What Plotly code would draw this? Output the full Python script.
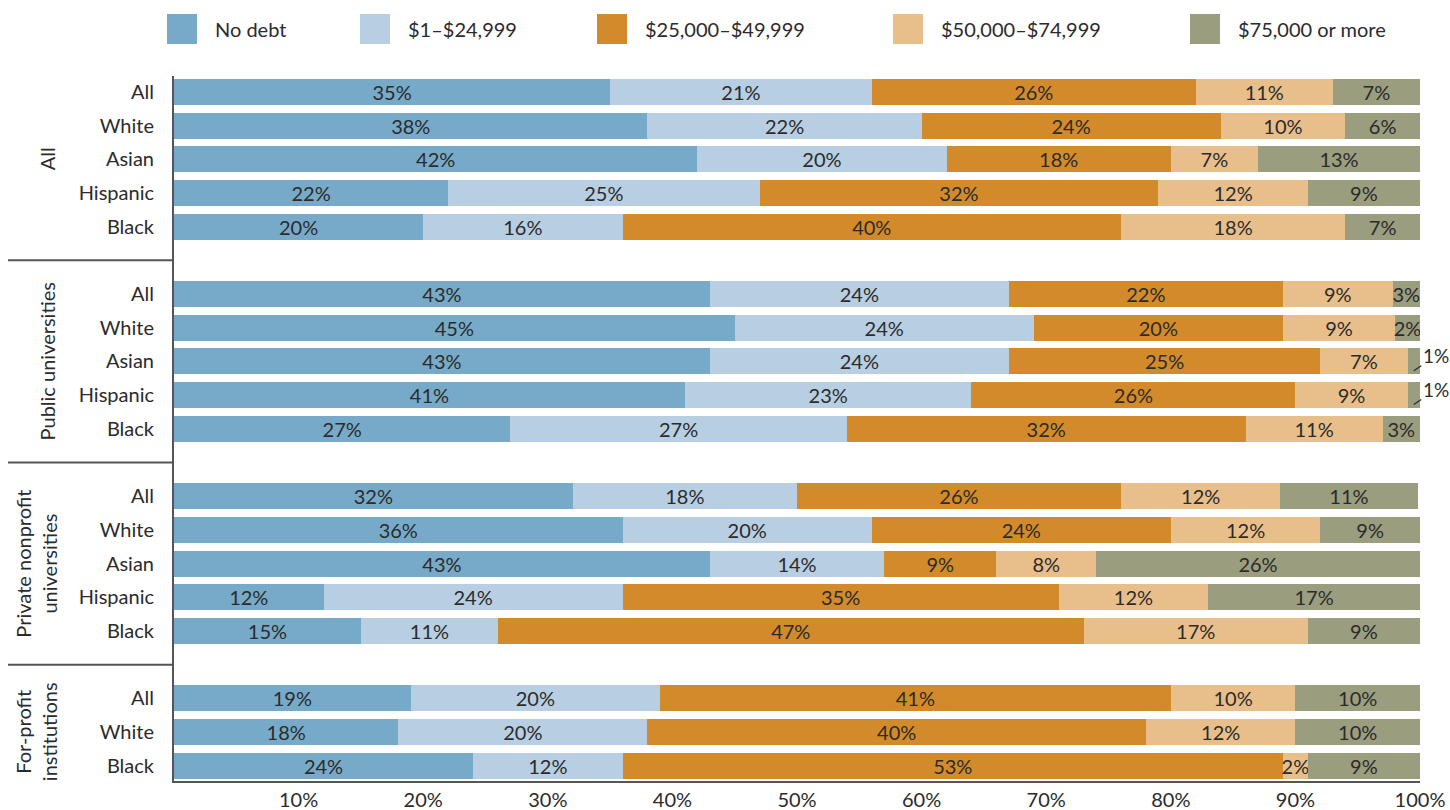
import plotly.graph_objects as go

# ---------------- data ----------------
groups = ["All", "Public universities", "Private nonprofit<br>universities", "For-profit<br>institutions"]
group_rows = [
    ["All", "White", "Asian", "Hispanic", "Black"],
    ["All", "White", "Asian", "Hispanic", "Black"],
    ["All", "White", "Asian", "Hispanic", "Black"],
    ["All", "White", "Black"],
]
series_names = ["No debt", "$1–$24,999", "$25,000–$49,999", "$50,000–$74,999", "$75,000 or more"]
series_colors = ["#77aac8", "#b8cee2", "#d38a2a", "#e8bf8a", "#9a9d7e"]

# segment widths (share of students, %), rows in reading order
no_debt  = [35, 38, 42, 22, 20,  43, 45, 43, 41, 27,  32, 36, 43, 12, 15,  19, 18, 24]
low_debt = [21, 22, 20, 25, 16,  24, 24, 24, 23, 27,  18, 20, 14, 24, 11,  20, 20, 12]
mid_debt = [26, 24, 18, 32, 40,  22, 20, 25, 26, 32,  26, 24,  9, 35, 47,  41, 40, 53]
high_debt = [11, 10, 7, 12, 18,  8.8, 9, 7, 9, 11,  12.8, 12, 8, 12, 18,  10, 12, 2]
top_debt = [7, 6, 13, 9, 6,  2.2, 2, 1, 1, 3,  11, 8, 26, 17, 9,  10, 10, 9]

# printed labels (%)
no_debt_lbl  = [35, 38, 42, 22, 20,  43, 45, 43, 41, 27,  32, 36, 43, 12, 15,  19, 18, 24]
low_debt_lbl = [21, 22, 20, 25, 16,  24, 24, 24, 23, 27,  18, 20, 14, 24, 11,  20, 20, 12]
mid_debt_lbl = [26, 24, 18, 32, 40,  22, 20, 25, 26, 32,  26, 24,  9, 35, 47,  41, 40, 53]
high_debt_lbl = [11, 10, 7, 12, 18,  9, 9, 7, 9, 11,  12, 12, 8, 12, 17,  10, 12, 2]
top_debt_lbl = [7, 6, 13, 9, 7,  3, 2, 1, 1, 3,  11, 9, 26, 17, 9,  10, 10, 9]

x_ticks = [10, 20, 30, 40, 50, 60, 70, 80, 90, 100]

# ---------------- layout helpers ----------------
FONT = "Lato"
TXT = "#2b2b2b"
AXC = "#555555"
L, R, T, B = 174, 30, 76, 29
W, H = 1450, 810
PW, PH = W - L - R, H - T - B


def px_x(px):
    return (px - L) / PW


def px_y(py):
    return (H - B - py) / PH


# y positions: groups separated by one empty slot
positions, labels, group_centers, separators = [], [], [], []
pos = 0
for gi, rows in enumerate(group_rows):
    start = pos
    for r in rows:
        positions.append(pos)
        labels.append(r)
        pos += 1
    group_centers.append((start + pos - 1) / 2)
    if gi < len(group_rows) - 1:
        separators.append(pos)
    pos += 1

widths = [no_debt, low_debt, mid_debt, high_debt, top_debt]
texts = [no_debt_lbl, low_debt_lbl, mid_debt_lbl, high_debt_lbl, top_debt_lbl]

fig = go.Figure()
annotations = []
for si, (name, color, w, t) in enumerate(zip(series_names, series_colors, widths, texts)):
    shown = []
    for ri, (wv, tv) in enumerate(zip(w, t)):
        if wv < 1.5:
            shown.append("")
            base = sum(widths[k][ri] for k in range(si))
            annotations.append(dict(
                x=base + wv / 2, y=positions[ri] + 0.28, xref="x", yref="y",
                text=f"{tv}%", showarrow=True, arrowhead=0, arrowwidth=1.2,
                arrowcolor=TXT, ax=22, ay=-15, font=dict(family=FONT, size=19, color=TXT),
            ))
        else:
            shown.append(f"{tv}%")
    fig.add_trace(go.Bar(
        y=positions, x=w, orientation="h", name=name,
        marker=dict(color=color, line=dict(width=0)),
        width=0.77, text=shown, textposition="inside", insidetextanchor="middle",
        constraintext="none", textangle=0,
        textfont=dict(family=FONT, size=20, color=TXT),
        insidetextfont=dict(family=FONT, size=20, color=TXT),
        showlegend=False, hoverinfo="skip",
    ))

shapes = []
# group separators
for s in separators:
    shapes.append(dict(type="line", xref="paper", yref="y", x0=px_x(8), x1=0, y0=s, y1=s,
                       line=dict(color=AXC, width=2)))

# group labels
for g, c in zip(groups, group_centers):
    two = "<br>" in g
    annotations.append(dict(
        x=px_x(36 if two else 47), y=c, xref="paper", yref="y", text=g,
        textangle=-90, showarrow=False, xanchor="center", yanchor="middle", align="center",
        font=dict(family=FONT, size=20, color=TXT),
    ))

# manual legend
legend_x = [167, 360, 597, 893, 1190]
for name, color, lx in zip(series_names, series_colors, legend_x):
    shapes.append(dict(type="rect", xref="paper", yref="paper",
                       x0=px_x(lx), x1=px_x(lx + 30), y0=px_y(44), y1=px_y(14),
                       fillcolor=color, line=dict(width=0)))
    annotations.append(dict(
        x=px_x(lx + 46), y=px_y(29), xref="paper", yref="paper", text=name,
        showarrow=False, xanchor="left", yanchor="middle",
        font=dict(family=FONT, size=20, color=TXT),
    ))

fig.update_layout(
    barmode="stack",
    width=W, height=H,
    margin=dict(l=L, r=R, t=T, b=B, autoexpand=False),
    paper_bgcolor="white", plot_bgcolor="white",
    font=dict(family=FONT, size=20, color=TXT),
    shapes=shapes, annotations=annotations,
    xaxis=dict(range=[0, 100], tickvals=x_ticks, ticktext=[f"{v}%" for v in x_ticks],
               showgrid=False, zeroline=False, showline=True, linecolor=AXC, linewidth=2,
               ticks="", automargin=False, fixedrange=True,
               tickfont=dict(family=FONT, size=20, color=TXT)),
    yaxis=dict(range=[20.45, -0.47], tickvals=positions, ticktext=labels,
               showgrid=False, zeroline=False, showline=True, linecolor=AXC, linewidth=2,
               ticks="", ticklabelstandoff=14, automargin=False, fixedrange=True,
               tickfont=dict(family=FONT, size=20, color=TXT)),
)

fig.write_html(
    "out.html",
    config={"displayModeBar": False},
    post_script="document.body.style.margin='0';document.body.style.padding='0';"
                "document.body.style.overflow='hidden';",
)
